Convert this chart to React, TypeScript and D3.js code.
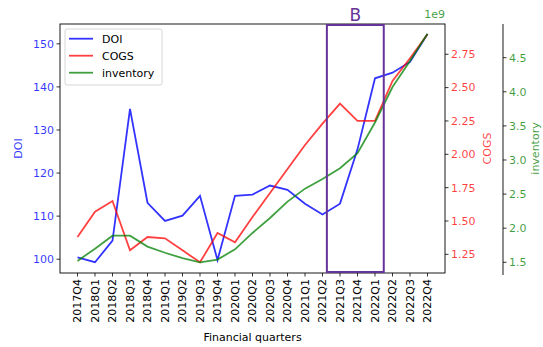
import React from 'react';
import * as d3 from 'd3';

const quarters = [
  '2017Q4', '2018Q1', '2018Q2', '2018Q3', '2018Q4', '2019Q1', '2019Q2', '2019Q3', '2019Q4',
  '2020Q1', '2020Q2', '2020Q3', '2020Q4', '2021Q1', '2021Q2', '2021Q3', '2021Q4',
  '2022Q1', '2022Q2', '2022Q3', '2022Q4',
];
const doi = [100.4, 99.3, 104.3, 134.9, 113.1, 108.9, 110.1, 114.7, 99.8, 114.7, 115.0,
  117.1, 116.1, 112.9, 110.4, 112.9, 125.5, 142.0, 143.3, 145.8, 152.3];
// in units of 1e9
const cogs = [1.38, 1.57, 1.65, 1.28, 1.38, 1.37, 1.28, 1.19, 1.41, 1.34, 1.53,
  1.71, 1.89, 2.07, 2.23, 2.38, 2.25, 2.25, 2.55, 2.72, 2.90];
const inventory = [1.52, 1.70, 1.89, 1.89, 1.73, 1.64, 1.56, 1.50, 1.54, 1.69, 1.93,
  2.15, 2.39, 2.58, 2.72, 2.88, 3.10, 3.55, 4.07, 4.45, 4.85];

const doiTicks = [100, 110, 120, 130, 140, 150];
const cogsTicks = [1.25, 1.5, 1.75, 2.0, 2.25, 2.5, 2.75];
const invTicks = [1.5, 2.0, 2.5, 3.0, 3.5, 4.0, 4.5];
const highlight = [14.25, 17.5]; // quarter index span of box "B"

const BLUE = 'rgba(0,0,255,0.8)';
const RED = 'rgba(255,0,0,0.75)';
const GREEN = 'rgba(0,128,0,0.75)';
const PURPLE = '#663399';
const FONT = 'DejaVu Sans, sans-serif';

const App = () => {
  const width = 543;
  const height = 347;
  const m = { left: 60, right: 445, top: 24, bottom: 273 };
  const invAxisX = 503;

  const x = d3.scaleLinear().domain([-1, quarters.length]).range([m.left, m.right]);
  const yDoi = d3.scaleLinear().domain([96.8, 154.6]).range([m.bottom, m.top]);
  const yCogs = d3.scaleLinear().domain([1.11, 2.977]).range([m.bottom, m.top]);
  const yInv = d3.scaleLinear().domain([1.343, 4.994]).range([m.bottom, m.top]);

  const mkLine = (ys: d3.ScaleLinear<number, number>) =>
    d3.line<number>().x((_, i) => x(i)).y((v) => ys(v));

  const legend = [
    { label: 'DOI', color: BLUE },
    { label: 'COGS', color: RED },
    { label: 'inventory', color: GREEN },
  ];

  return (
    <svg width={width} height={height} style={{ position: 'absolute', left: 0, top: 0 }} fontFamily={FONT}>
      <rect width={width} height={height} fill="#fff" />

      {/* data lines */}
      <path d={mkLine(yDoi)(doi) || ''} fill="none" stroke={BLUE} strokeWidth={1.8} />
      <path d={mkLine(yCogs)(cogs) || ''} fill="none" stroke={RED} strokeWidth={1.8} />
      <path d={mkLine(yInv)(inventory) || ''} fill="none" stroke={GREEN} strokeWidth={1.8} />

      {/* frame */}
      <rect x={m.left} y={m.top} width={m.right - m.left} height={m.bottom - m.top}
        fill="none" stroke="#000" strokeWidth={0.9} />
      <line x1={invAxisX} x2={invAxisX} y1={m.top} y2={m.bottom + 2} stroke="#000" strokeWidth={0.9} />

      {/* highlight box */}
      <rect x={x(highlight[0])} y={m.top + 1} width={x(highlight[1]) - x(highlight[0])}
        height={m.bottom - m.top - 2} fill="none" stroke={PURPLE} strokeWidth={2} />
      <text x={(x(highlight[0]) + x(highlight[1])) / 2} y={21} textAnchor="middle"
        fontSize={17} fill={PURPLE}>B</text>

      {/* x axis */}
      {quarters.map((q, i) => (
        <g key={q} transform={`translate(${x(i)},${m.bottom})`}>
          <line y2={3.5} stroke="#000" strokeWidth={0.8} />
          <text transform="translate(0,6) rotate(-90)" textAnchor="end" dy="0.35em"
            fontSize={11} fill="#000">{q}</text>
        </g>
      ))}
      <text x={(m.left + m.right) / 2} y={341} textAnchor="middle" fontSize={11} fill="#000">
        Financial quarters
      </text>

      {/* left DOI axis */}
      {doiTicks.map((t) => (
        <g key={t} transform={`translate(${m.left},${yDoi(t)})`}>
          <line x2={-3.5} stroke="#000" strokeWidth={0.8} />
          <text x={-6} dy="0.35em" textAnchor="end" fontSize={11} fill={BLUE}>{t}</text>
        </g>
      ))}
      <text transform={`translate(22,${(m.top + m.bottom) / 2}) rotate(-90)`} textAnchor="middle"
        fontSize={11} fill={BLUE}>DOI</text>

      {/* right COGS axis */}
      {cogsTicks.map((t) => (
        <g key={t} transform={`translate(${m.right},${yCogs(t)})`}>
          <line x2={3.5} stroke="#000" strokeWidth={0.8} />
          <text x={6} dy="0.35em" textAnchor="start" fontSize={11} fill={RED}>{t.toFixed(2)}</text>
        </g>
      ))}
      <text transform={`translate(491,${(m.top + m.bottom) / 2}) rotate(-90)`} textAnchor="middle"
        fontSize={11} fill={RED}>COGS</text>

      {/* far right inventory axis */}
      {invTicks.map((t) => (
        <g key={t} transform={`translate(${invAxisX},${yInv(t)})`}>
          <line x2={3.5} stroke="#000" strokeWidth={0.8} />
          <text x={6} dy="0.35em" textAnchor="start" fontSize={11} fill={GREEN}>{t.toFixed(1)}</text>
        </g>
      ))}
      <text transform={`translate(539,${(m.top + m.bottom) / 2}) rotate(-90)`} textAnchor="middle"
        fontSize={11} fill={GREEN}>inventory</text>
      <text x={m.right} y={18} textAnchor="end" fontSize={11} fill={GREEN}>1e9</text>

      {/* legend */}
      <rect x={65} y={29} width={97} height={56} rx={2} fill="#fff" fillOpacity={0.8}
        stroke="#ccc" strokeWidth={0.8} />
      {legend.map((d, i) => (
        <g key={d.label} transform={`translate(69,${38.7 + i * 17})`}>
          <line x2={24} stroke={d.color} strokeWidth={1.8} />
          <text x={33} dy="0.35em" fontSize={11} fill="#000">{d.label}</text>
        </g>
      ))}
    </svg>
  );
};

export default App;
